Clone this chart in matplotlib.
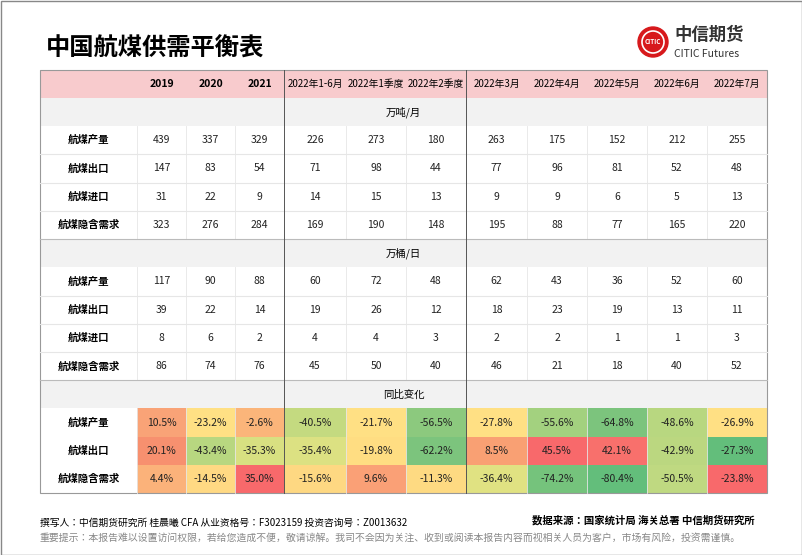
import matplotlib.pyplot as plt
from matplotlib.patches import Rectangle, Circle

plt.rcParams['font.family'] = ['Noto Sans CJK SC', 'Noto Sans CJK JP', 'Noto Sans CJK TC', 'DejaVu Sans']

columns = ['2019', '2020', '2021', '2022年1-6月', '2022年1季度', '2022年2季度',
           '2022年3月', '2022年4月', '2022年5月', '2022年6月', '2022年7月']
row_names = ['航煤产量', '航煤出口', '航煤进口', '航煤隐含需求']
sections = ['万吨/月', '万桶/日', '同比变化']

ton_month = [
    [439, 337, 329, 226, 273, 180, 263, 175, 152, 212, 255],
    [147, 83, 54, 71, 98, 44, 77, 96, 81, 52, 48],
    [31, 22, 9, 14, 15, 13, 9, 9, 6, 5, 13],
    [323, 276, 284, 169, 190, 148, 195, 88, 77, 165, 220],
]
barrel_day = [
    [117, 90, 88, 60, 72, 48, 62, 43, 36, 52, 60],
    [39, 22, 14, 19, 26, 12, 18, 23, 19, 13, 11],
    [8, 6, 2, 4, 4, 3, 2, 2, 1, 1, 3],
    [86, 74, 76, 45, 50, 40, 46, 21, 18, 40, 52],
]
yoy_names = ['航煤产量', '航煤出口', '航煤隐含需求']
yoy = [
    [10.5, -23.2, -2.6, -40.5, -21.7, -56.5, -27.8, -55.6, -64.8, -48.6, -26.9],
    [20.1, -43.4, -35.3, -35.4, -19.8, -62.2, 8.5, 45.5, 42.1, -42.9, -27.3],
    [4.4, -14.5, 35.0, -15.6, 9.6, -11.3, -36.4, -74.2, -80.4, -50.5, -23.8],
]
# conditional-format colours as shown in the reference
yoy_colors = [
    ['#F9A377', '#FFE084', '#FBB57A', '#C4DA80', '#FFE084', '#8CC97E',
     '#FFE084', '#A3D17F', '#7CC47D', '#B8D780', '#FFE084'],
    ['#F7906F', '#B8D780', '#D8E081', '#DCE182', '#FFDD82', '#7CC47D',
     '#F9A073', '#F8696B', '#F8706C', '#BBD780', '#63BE7B'],
    ['#FBB27A', '#FFD983', '#F8696B', '#FED882', '#FAA076', '#FEDA82',
     '#E0E282', '#75C37C', '#63BE7B', '#BFD981', '#F8696B'],
]

fig = plt.figure(figsize=(8.02, 5.55), dpi=100)
ax = fig.add_axes([0, 0, 1, 1])
ax.set_xlim(0, 802)
ax.set_ylim(555, 0)
ax.axis('off')
ax.add_patch(Rectangle((0.5, 0.5), 801, 554, fill=False, ec='#888888', lw=1))

ax.text(46, 49, '中国航煤供需平衡表', fontsize=17.5, fontweight='bold', va='center')
# logo
ax.add_patch(Circle((653, 42), 15, color='#D7191C'))
ax.add_patch(Circle((653, 42), 11, fc='none', ec='white', lw=1.2))
ax.text(653, 42, 'CITIC', color='white', fontsize=4.5, ha='center', va='center', fontweight='bold')
ax.text(674, 35, '中信期货', fontsize=12.5, fontweight='bold', va='center', color='#333333')
ax.text(674, 54, 'CITIC Futures', fontsize=7.5, va='center', color='#333333')

xb = [40, 137, 186, 235, 284, 346, 406, 466, 527, 587, 647, 707, 767]
L, R = xb[0], xb[-1]
fs = 7.5

def hline(y, c='#D9D9D9'):
    ax.plot([L, R], [y, y], color=c, lw=0.8)

# header
ax.add_patch(Rectangle((L, 70), R - L, 28, fc='#F8CBCD', ec='none'))
for i, c in enumerate(columns):
    ax.text((xb[i + 1] + xb[i + 2]) / 2, 84, c, fontsize=7 if i > 2 else fs,
            ha='center', va='center', fontweight='bold' if i < 3 else 'normal')

def section(y, title):
    ax.add_patch(Rectangle((L, y), R - L, 28, fc='#F2F2F2', ec='none'))
    ax.text((L + R) / 2, y + 14, title, fontsize=fs, ha='center', va='center')
    return y + 28

def block(y0, names, vals, colors=None, fmt='{}'):
    h = 28.3
    for r, name in enumerate(names):
        y = y0 + r * h
        ax.text((xb[0] + xb[1]) / 2, y + h / 2, name, fontsize=fs, ha='center', va='center', fontweight='bold')
        for i, v in enumerate(vals[r]):
            if colors:
                ax.add_patch(Rectangle((xb[i + 1], y), xb[i + 2] - xb[i + 1], h, fc=colors[r][i], ec='none'))
            ax.text((xb[i + 1] + xb[i + 2]) / 2, y + h / 2, fmt.format(v), fontsize=fs, ha='center', va='center', color='#222222')
        if r > 0 and not colors:
            hline(y, '#E6E6E6')
    for x in xb[1:-1]:
        if x not in (284, 466):
            ax.plot([x, x], [y0, y0 + h * len(names)], color='#E6E6E6', lw=0.6)
    return y0 + h * len(names)

y = section(98, sections[0])
y = block(y, row_names, ton_month)
hline(y, '#BBBBBB')
y = section(y, sections[1])
y = block(y, row_names, barrel_day)
hline(y, '#BBBBBB')
y = section(y, sections[2])
y = block(y, yoy_names, yoy, yoy_colors, '{:.1f}%')

for x in (284, 466):
    ax.plot([x, x], [70, y], color='#555555', lw=0.7)
ax.add_patch(Rectangle((L, 70), R - L, y - 70, fill=False, ec='#999999', lw=0.8))

ax.text(755, 520, '数据来源：国家统计局 海关总署 中信期货研究所', fontsize=7.5, ha='right', va='center', fontweight='bold')
ax.text(40, 523, '撰写人：中信期货研究所 桂晨曦 CFA 从业资格号：F3023159 投资咨询号：Z0013632', fontsize=7, va='center')
ax.text(40, 538, '重要提示：本报告难以设置访问权限，若给您造成不便，敬请谅解。我司不会因为关注、收到或阅读本报告内容而视相关人员为客户，市场有风险，投资需谨慎。',
        fontsize=7.1, va='center', color='#888888')

fig.savefig('out.png', dpi=100)
